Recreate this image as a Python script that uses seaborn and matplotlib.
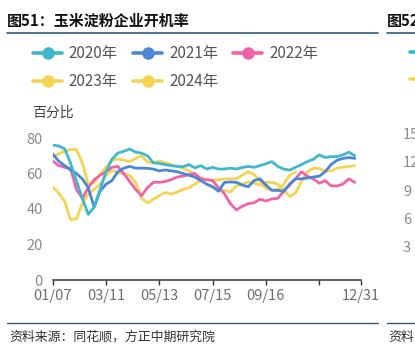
import numpy as np
import pandas as pd
import matplotlib
matplotlib.use("Agg")
import matplotlib.pyplot as plt
from matplotlib.lines import Line2D
import seaborn as sns

# ---------------- data ----------------
dates = ['01/07', '03/11', '05/13', '07/15', '09/16', '', '12/31']
tick_pos = [0, 9, 18, 27, 36, 45, 52]
years = ['2020年', '2021年', '2022年', '2023年', '2024年']

y2020 = [76, 75.5, 74, 66, 56, 46, 37, 41, 51, 61, 68, 71.5, 72.5, 73.8, 72, 71.5,
         70, 66, 65.7, 65, 64.4, 64, 63.8, 65, 63.2, 64.4, 62.5, 63.5, 62.5, 62.5,
         63, 62.5, 63.4, 64, 63.5, 64.5, 65.5, 66.7, 64, 62.5, 61.9, 63.5, 65, 66.7,
         68, 70.5, 69, 69.5, 69.5, 70.5, 72, 70]
y2021 = [71, 67, 64.5, 62, 60, 57, 52, 41, 50, 54, 56, 61, 63, 64, 63, 63, 62.9,
         62.5, 61.5, 62, 61.5, 61, 60, 59, 58, 56, 54, 52.5, 50, 55, 55.2, 55, 53.5,
         52.5, 56, 57, 53.5, 50.5, 50.5, 50, 54, 57, 57, 57.5, 58, 58.5, 61, 65,
         67.5, 68.5, 69, 68.5]
y2022 = [67, 64.5, 63.5, 63, 51, 46, 52, 56.5, 59, 61, 63.5, 64, 60, 55.5, 51,
         47.5, 52, 55, 55, 55.5, 56.5, 58, 58.5, 59.4, 60, 57, 56.5, 56, 52, 48.6,
         43, 39.5, 41.5, 43, 43.5, 45.5, 44.5, 45.7, 46, 50, 53.5, 57, 61, 58.5, 57,
         54.5, 56, 53, 53, 54, 57, 55]
y2023 = [52.5, 49, 44.5, 34, 34.5, 43, 48.5, 51, 54, 59, 61.7, 60.5, 60, 59, 55,
         46, 43.5, 45.5, 47.5, 49.3, 48.5, 49.5, 51, 52, 54, 56.5, 54, 52.5, 51.5,
         50.5, 49.5, 53, 54, 55.2, 54.5, 53.5, 55, 55, 54, 51, 47, 49, 55.5, 61, 63,
         62.8, 61.3, 61.5, 63, 63.5, 64, 64.4]
y2024 = [69.5, 71, 72.5, 73.5, 73.5, 66, 54, 55, 59.5, 63.5, 67.5, 68.2, 67.5,
         66.7, 68.5, 70, 66.5, 66, 67, 66, 65, 64, 63, 61.5, 59.5, 57.5, 56.5, 56.2,
         56.5, 57, 57, 57, 59, 61, 59.5, 55.5, 51.5, 50.7, 51, 54, 59, 61]

colors = {'2020年': '#3FB8CD', '2021年': '#4A87D6', '2022年': '#F063A8',
          '2023年': '#F4D452', '2024年': '#F4D452'}

series = {'2020年': y2020, '2021年': y2021, '2022年': y2022,
          '2023年': y2023, '2024年': y2024}
rows = []
for yr, vals in series.items():
    for i, v in enumerate(vals):
        rows.append({'idx': i, 'value': v, 'year': yr})
df = pd.DataFrame(rows)

# ---------------- style ----------------
sns.set_theme(style='white')
plt.rcParams['font.family'] = ['Noto Sans CJK SC', 'DejaVu Sans']
plt.rcParams['axes.unicode_minus'] = False

W, H = 415, 350
fig = plt.figure(figsize=(W / 100, H / 100), dpi=100)

def fx(px):
    return px / W

def fy(py):
    return 1 - py / H

ax = fig.add_axes([fx(52.7), fy(280), fx(360.7) - fx(52.7), fy(138) - fy(280)])

order = ['2023年', '2024年', '2022年', '2021年', '2020年']
for yr in order:
    sub = df[df['year'] == yr]
    sns.lineplot(data=sub, x='idx', y='value', color=colors[yr], lw=2.0,
                 ax=ax, legend=False, estimator=None, sort=True)

ax.set_xlim(0, 52)
ax.set_ylim(0, 80)
ax.set_xticks(tick_pos)
ax.set_xticklabels(dates)
ax.set_yticks([0, 20, 40, 60, 80])
ax.set_xlabel('')
ax.set_ylabel('')
for s in ['top', 'right', 'left']:
    ax.spines[s].set_visible(False)
ax.spines['bottom'].set_color('#333333')
ax.spines['bottom'].set_linewidth(1.1)
ax.tick_params(axis='x', bottom=True, direction='out', length=3.5, width=1.0,
               color='#333333', labelsize=10.5, labelcolor='#6E6E6E', pad=3)
ax.tick_params(axis='y', left=False, length=0, labelsize=10.5,
               labelcolor='#8A8A8A', pad=7)
ax.grid(False)

# y unit label
fig.text(fx(32), fy(113), '百分比', fontsize=10, color='#444444',
         va='center', ha='left')

# legend
hord = ['2020年', '2023年', '2021年', '2024年', '2022年']
handles = [Line2D([0], [0], color=colors[y], lw=2.6, marker='o', markersize=8,
                  markerfacecolor=colors[y], markeredgecolor=colors[y]) for y in hord]
leg = fig.legend(handles, hord, loc='upper left', bbox_to_anchor=(fx(33), fy(45)),
                 ncol=3, frameon=False, fontsize=11, handlelength=1.9,
                 handletextpad=0.45, columnspacing=1.0, labelspacing=0.72,
                 borderpad=0, borderaxespad=0)
for t in leg.get_texts():
    t.set_color('#555555')

# title and rules
fig.text(fx(7), fy(21), '图51：玉米淀粉企业开机率', fontsize=10.8, fontweight='bold',
         color='#111111', va='center', ha='left')
fig.text(fx(387), fy(21), '图52', fontsize=10.8, fontweight='bold',
         color='#111111', va='center', ha='left')
rule_c = '#2E5A80'
fig.add_artist(Line2D([fx(7), fx(378)], [fy(32.8), fy(32.8)], color=rule_c, lw=1.2))
fig.add_artist(Line2D([fx(387), fx(416)], [fy(32.8), fy(32.8)], color=rule_c, lw=1.2))
fig.add_artist(Line2D([fx(7), fx(378)], [fy(323), fy(323)], color=rule_c, lw=1.0))
fig.add_artist(Line2D([fx(387), fx(416)], [fy(323), fy(323)], color=rule_c, lw=1.0))

# neighbouring chart fragments at right edge
fig.add_artist(Line2D([fx(410), fx(416)], [fy(52), fy(52)], color=colors['2020年'], lw=2.6))
fig.add_artist(Line2D([fx(410), fx(416)], [fy(79), fy(79)], color=colors['2023年'], lw=2.6))
for lab, py in [('15', 135), ('12', 163), ('9', 192), ('6', 220), ('3', 248)]:
    fig.text(fx(403), fy(py), lab, fontsize=10.5, color='#8A8A8A',
             va='center', ha='left')

# source
fig.text(fx(9), fy(337), '资料来源：同花顺，方正中期研究院', fontsize=9.3,
         color='#333333', va='center', ha='left', style='italic')
fig.text(fx(388), fy(337), '资料', fontsize=9.3, color='#333333',
         va='center', ha='left', style='italic')

fig.savefig('out.png', dpi=100)
